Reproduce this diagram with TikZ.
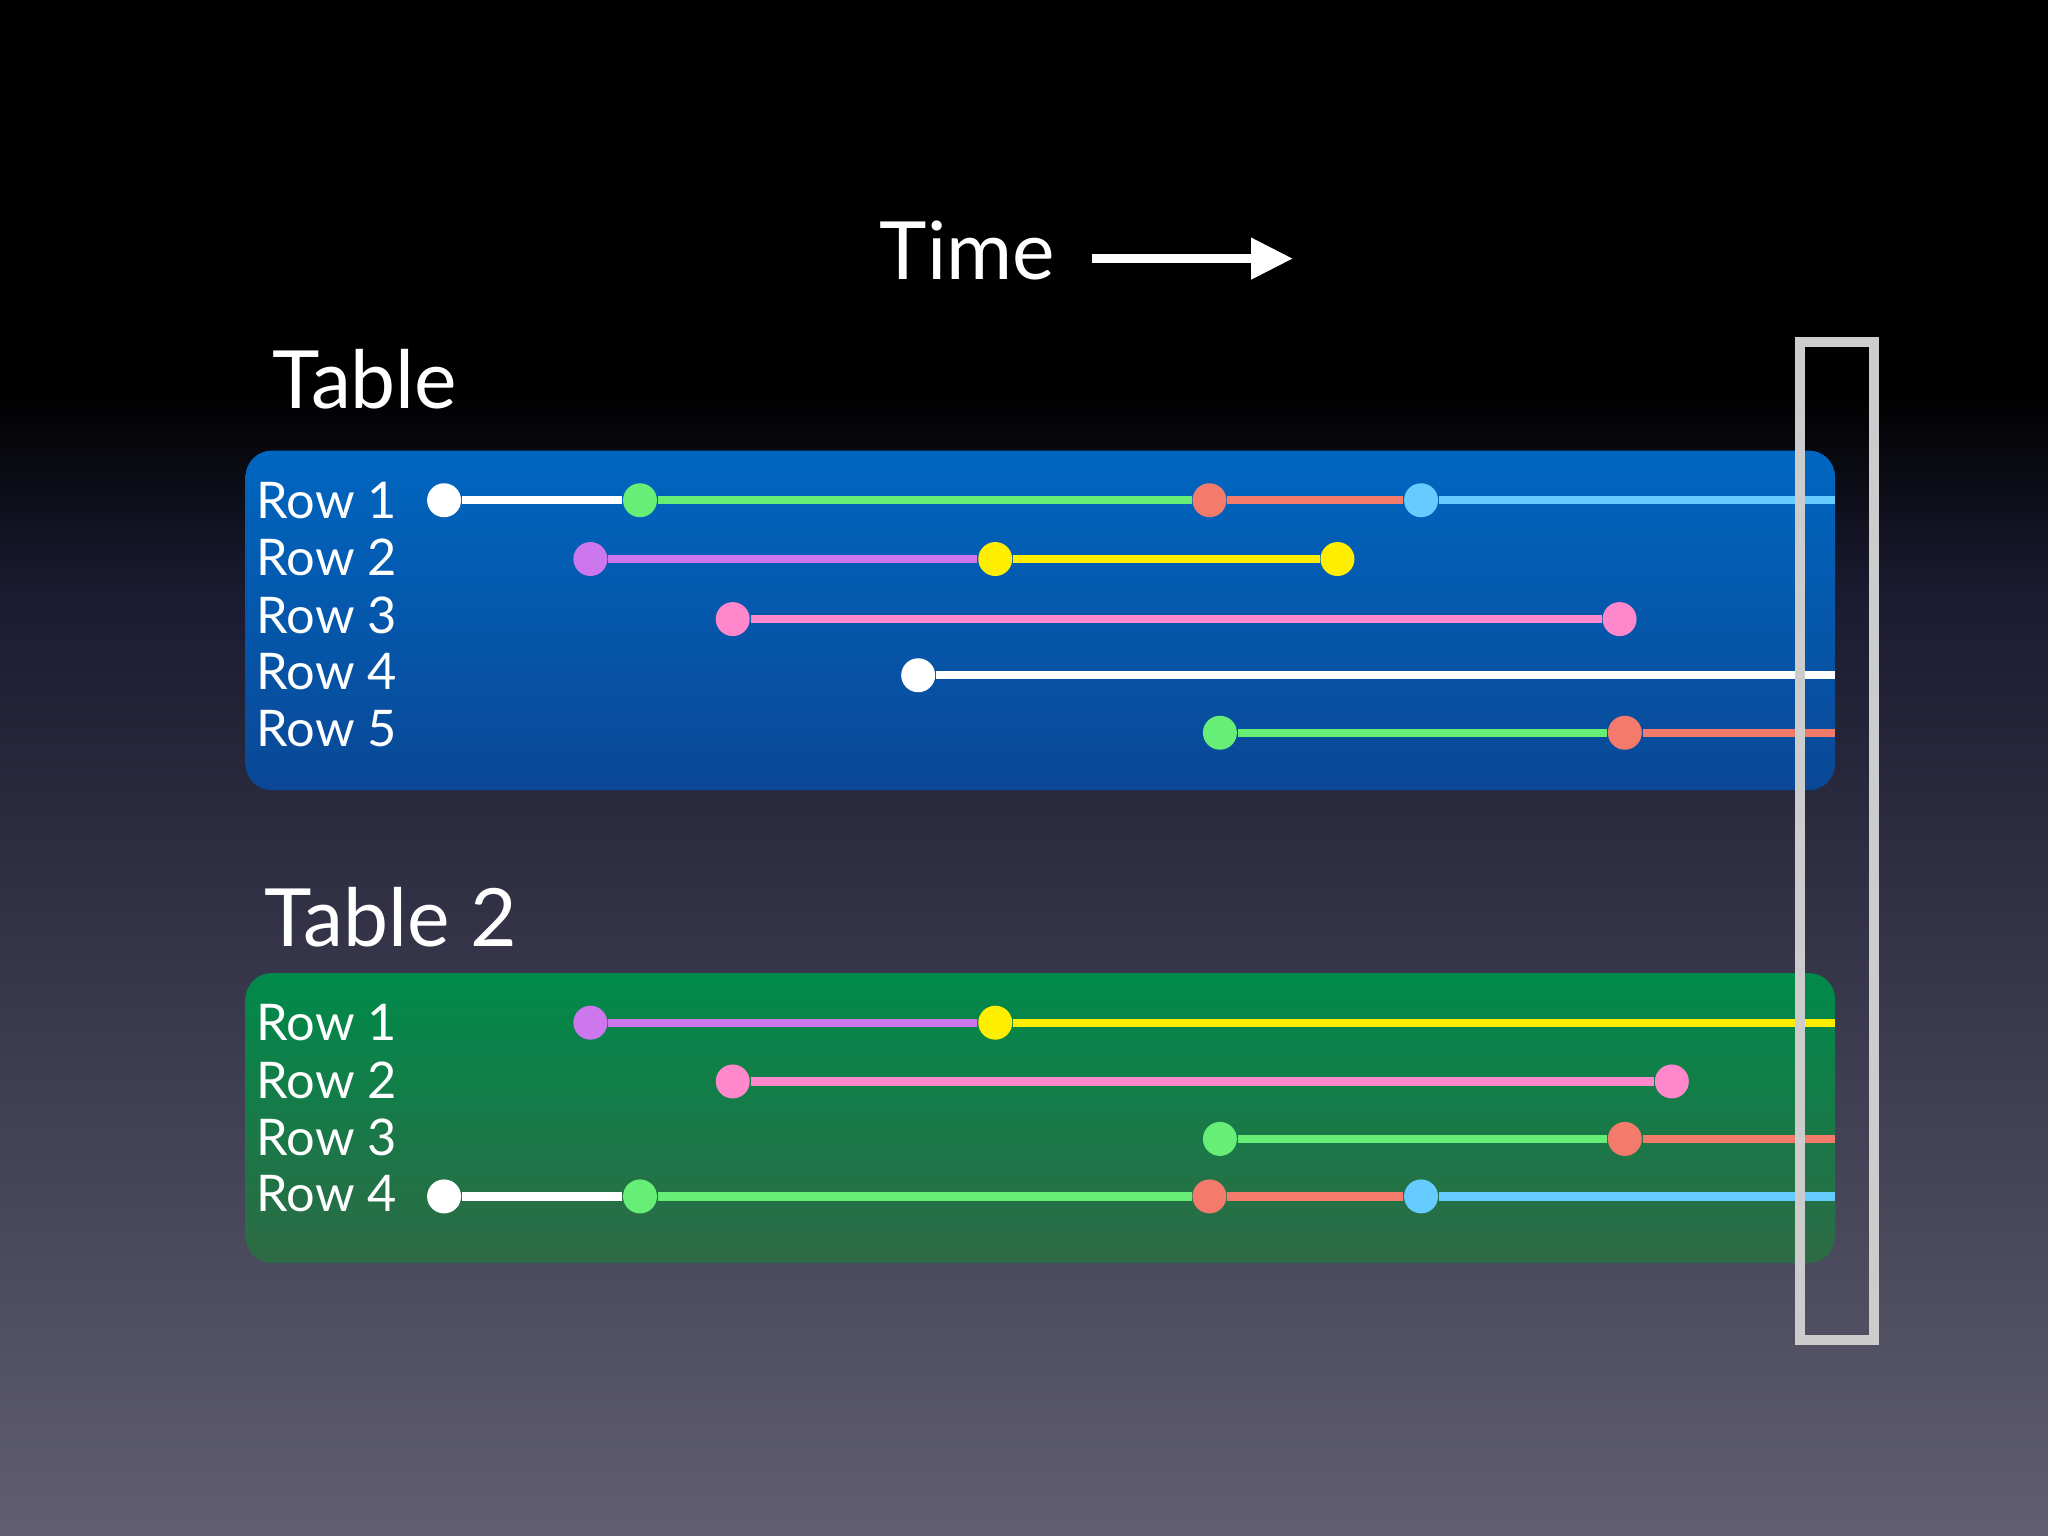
\documentclass[tikz,border=0pt]{standalone}
\usepackage{fontspec}
\setmainfont{Lato}
\usetikzlibrary{positioning}
\usetikzlibrary{arrows.meta}

\definecolor{dotwhite}{HTML}{FFFFFF}
\definecolor{dotgreen}{HTML}{66EE77}
\definecolor{dotred}{HTML}{F47A6C}
\definecolor{dotblue}{HTML}{66CCFF}
\definecolor{dotpurple}{HTML}{CC77EE}
\definecolor{dotyellow}{HTML}{FFEE00}
\definecolor{dotpink}{HTML}{FF88CC}
\definecolor{bgbottom}{HTML}{605E70}
\definecolor{bgmid}{HTML}{1A1A30}

\tikzset{
  dot/.style={circle, inner sep=0pt, minimum size=0.26cm, fill=#1},
  seg/.style={line width=1.8pt, draw=#1},
  rowlabel/.style={anchor=west, text=white, font=\fontsize{11}{13}\selectfont, inner sep=0pt},
  title/.style={anchor=west, text=white, font=\fontsize{17.5}{21}\selectfont, inner sep=0pt},
}

\begin{document}
\begin{tikzpicture}[x=0.01cm, y=-0.01cm]
  % background
  \fill[black] (0,0) rectangle (1568,300);
  \shade[top color=black, bottom color=bgmid] (0,299) rectangle (1568,450);
  \shade[top color=bgmid, bottom color=bgbottom] (0,449) rectangle (1568,1176);
  \useasboundingbox (0,0) rectangle (1568,1176);

  % time arrow
  \node[title] (time) at (673,192) {Time};
  \coordinate (tstart) at (836,198);
  \coordinate (tend) at (990,198);
  \draw[white, line width=2pt, -{Triangle[length=0.32cm, width=0.3cm]}] (tstart) -- (tend);

  % table 1
  \node[title] (tab1) at (208,290) {Table};
  \shade[rounded corners=0.2cm, top color={rgb,255:red,0;green,102;blue,192}, bottom color={rgb,255:red,10;green,72;blue,150}]
    (188,345) rectangle (1405,605);
  \foreach \i/\y in {1/383,2/427,3/471,4/514,5/558}
    \node[rowlabel] (t1l\i) at (196,\y) {Row \i};

  % row 1
  \node[dot=dotwhite] (t1a) at (340,383) {};
  \node[dot=dotgreen] (t1b) at (490,383) {};
  \node[dot=dotred] (t1c) at (926,383) {};
  \node[dot=dotblue] (t1d) at (1088,383) {};
  \coordinate (t1e) at (1405,383);
  \draw[seg=dotwhite] (t1a) -- (t1b);
  \draw[seg=dotgreen] (t1b) -- (t1c);
  \draw[seg=dotred] (t1c) -- (t1d);
  \draw[seg=dotblue] (t1d) -- (t1e);
  % row 2
  \node[dot=dotpurple] (t2a) at (452,428) {};
  \node[dot=dotyellow] (t2b) at (762,428) {};
  \node[dot=dotyellow] (t2c) at (1024,428) {};
  \draw[seg=dotpurple] (t2a) -- (t2b);
  \draw[seg=dotyellow] (t2b) -- (t2c);
  % row 3
  \node[dot=dotpink] (t3a) at (561,474) {};
  \node[dot=dotpink] (t3b) at (1240,474) {};
  \draw[seg=dotpink] (t3a) -- (t3b);
  % row 4
  \node[dot=dotwhite] (t4a) at (703,517) {};
  \coordinate (t4e) at (1405,517);
  \draw[seg=dotwhite] (t4a) -- (t4e);
  % row 5
  \node[dot=dotgreen] (t5a) at (934,561) {};
  \node[dot=dotred] (t5b) at (1244,561) {};
  \coordinate (t5e) at (1405,561);
  \draw[seg=dotgreen] (t5a) -- (t5b);
  \draw[seg=dotred] (t5b) -- (t5e);

  % table 2
  \node[title] (tab2) at (202,702) {Table 2};
  \shade[rounded corners=0.2cm, top color={rgb,255:red,0;green,138;blue,74}, bottom color={rgb,255:red,46;green,106;blue,69}]
    (188,745) rectangle (1405,967);
  \foreach \i/\y in {1/783,2/827,3/871,4/914}
    \node[rowlabel] (u1l\i) at (196,\y) {Row \i};

  % row 1
  \node[dot=dotpurple] (u1a) at (452,783) {};
  \node[dot=dotyellow] (u1b) at (762,783) {};
  \coordinate (u1e) at (1405,783);
  \draw[seg=dotpurple] (u1a) -- (u1b);
  \draw[seg=dotyellow] (u1b) -- (u1e);
  % row 2
  \node[dot=dotpink] (u2a) at (561,828) {};
  \node[dot=dotpink] (u2b) at (1280,828) {};
  \draw[seg=dotpink] (u2a) -- (u2b);
  % row 3
  \node[dot=dotgreen] (u3a) at (934,872) {};
  \node[dot=dotred] (u3b) at (1244,872) {};
  \coordinate (u3e) at (1405,872);
  \draw[seg=dotgreen] (u3a) -- (u3b);
  \draw[seg=dotred] (u3b) -- (u3e);
  % row 4
  \node[dot=dotwhite] (u4a) at (340,916) {};
  \node[dot=dotgreen] (u4b) at (490,916) {};
  \node[dot=dotred] (u4c) at (926,916) {};
  \node[dot=dotblue] (u4d) at (1088,916) {};
  \coordinate (u4e) at (1405,916);
  \draw[seg=dotwhite] (u4a) -- (u4b);
  \draw[seg=dotgreen] (u4b) -- (u4c);
  \draw[seg=dotred] (u4c) -- (u4d);
  \draw[seg=dotblue] (u4d) -- (u4e);

  % snapshot frame
  \draw[black!20, line width=2.2pt] (1378,262) rectangle (1435,1026);
\end{tikzpicture}
\end{document}
